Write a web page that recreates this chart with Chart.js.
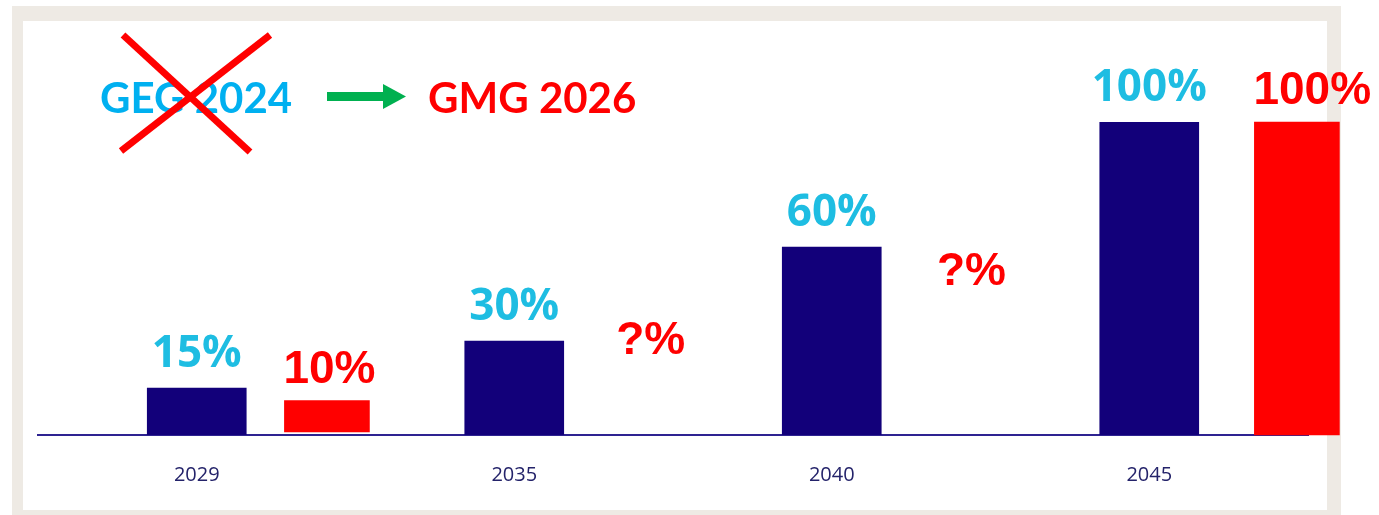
<!DOCTYPE html>
<html>
<head>
<meta charset="utf-8">
<script src="https://cdn.jsdelivr.net/npm/chart.js@4/dist/chart.umd.min.js"></script>
<style>
  html, body { margin: 0; padding: 0; background: #fff; }
  body { width: 1379px; height: 515px; position: relative; overflow: hidden; }
  #frame { position: absolute; left: 12px; top: 6px; width: 1329px; height: 509px; background: #eeeae4; }
  #inner { position: absolute; left: 23px; top: 21px; width: 1304px; height: 489px; background: #fff; }
  #chart { position: absolute; left: 0; top: 0; }
  #header { position: absolute; left: 0; top: 0; }
</style>
</head>
<body>
<div id="frame"></div>
<div id="inner"></div>
<canvas id="chart" width="1379" height="515"></canvas>
<svg id="header" width="1379" height="200" xmlns="http://www.w3.org/2000/svg">
  <text x="100" y="113" font-family="Lato" font-weight="700" font-size="42" fill="#00b0f0">GEG 2024</text>
  <line x1="123" y1="35" x2="250" y2="152" stroke="#ff0000" stroke-width="7"/>
  <line x1="270" y1="35" x2="121" y2="151" stroke="#ff0000" stroke-width="7"/>
  <rect x="327" y="92" width="57" height="9" fill="#00b050"/>
  <polygon points="383,84 406,96.5 383,109" fill="#00b050"/>
  <text x="428" y="113" font-family="Lato" font-weight="700" font-size="42" fill="#ff0000">GMG 2026</text>
</svg>
<script>
// categories and values
const years = ['2029', '2035', '2040', '2045'];
const gegValues = [15, 30, 60, 100];          // old target (navy bars)
const gmgValues = [[1, 11], [0, 100]];        // new target (red bars), floating start/end
const gmgLabels = ['10%', '100%'];
const gmgOffsets = [0.41, 3.465];             // red bars sit right of their year
const unknownLabels = ['?%', '?%'];
const unknownOffsets = [1.43, 2.44];
const unknownLevels = [30, 52];

const NAVY = '#12007a';
const RED = '#ff0000';
const CYAN = '#1ebde2';

const valueLabels = {
  id: 'valueLabels',
  afterDatasetsDraw(chart) {
    const ctx = chart.ctx;
    ctx.save();
    ctx.textBaseline = 'alphabetic';

    // cyan labels over navy bars
    ctx.fillStyle = CYAN;
    ctx.textAlign = 'center';
    ctx.font = 'bold 44px "Open Sans"';
    chart.getDatasetMeta(0).data.forEach((bar, i) => {
      ctx.fillText(gegValues[i] + '%', bar.x, bar.y - 21);
    });

    // red labels over red bars
    ctx.fillStyle = RED;
    ctx.textAlign = 'left';
    ctx.font = 'bold 46px "Liberation Sans"';
    chart.getDatasetMeta(1).data.forEach((bar, i) => {
      ctx.fillText(gmgLabels[i], bar.x - bar.width / 2 - 1, bar.y - 18);
    });

    // question marks where no new value exists
    ctx.textAlign = 'center';
    ctx.textBaseline = 'middle';
    chart.getDatasetMeta(2).data.forEach((pt, i) => {
      ctx.fillText(unknownLabels[i], pt.x, pt.y);
    });
    ctx.restore();
  }
};

new Chart(document.getElementById('chart'), {
  type: 'bar',
  data: {
    labels: years,
    datasets: [
      {
        label: 'GEG 2024',
        data: gegValues,
        backgroundColor: NAVY,
        barThickness: 99,
        grouped: false,
        xAxisID: 'x',
        yAxisID: 'y'
      },
      {
        label: 'GMG 2026',
        data: gmgValues.map((v, i) => ({ x: gmgOffsets[i], y: v })),
        backgroundColor: RED,
        barThickness: 85,
        grouped: false,
        clip: false,
        xAxisID: 'xr',
        yAxisID: 'y'
      },
      {
        type: 'scatter',
        label: 'unknown',
        data: unknownLevels.map((v, i) => ({ x: unknownOffsets[i], y: v })),
        pointRadius: 0,
        showLine: false,
        xAxisID: 'xr',
        yAxisID: 'y'
      }
    ]
  },
  options: {
    responsive: false,
    animation: false,
    events: [],
    layout: { padding: { left: 38, right: 71, top: 122, bottom: 0 } },
    plugins: {
      legend: { display: false },
      tooltip: { enabled: false }
    },
    scales: {
      x: {
        type: 'category',
        offset: true,
        grid: { display: false, drawTicks: false },
        border: { display: true, color: '#2e2391', width: 2 },
        ticks: {
          color: '#24236a',
          padding: 28,
          font: { family: '"Open Sans"', size: 20 }
        }
      },
      xr: {
        type: 'linear',
        display: false,
        offset: false,
        min: -0.5,
        max: 3.5
      },
      y: {
        display: false,
        min: 0,
        max: 100
      }
    }
  },
  plugins: [valueLabels]
});
</script>
</body>
</html>
